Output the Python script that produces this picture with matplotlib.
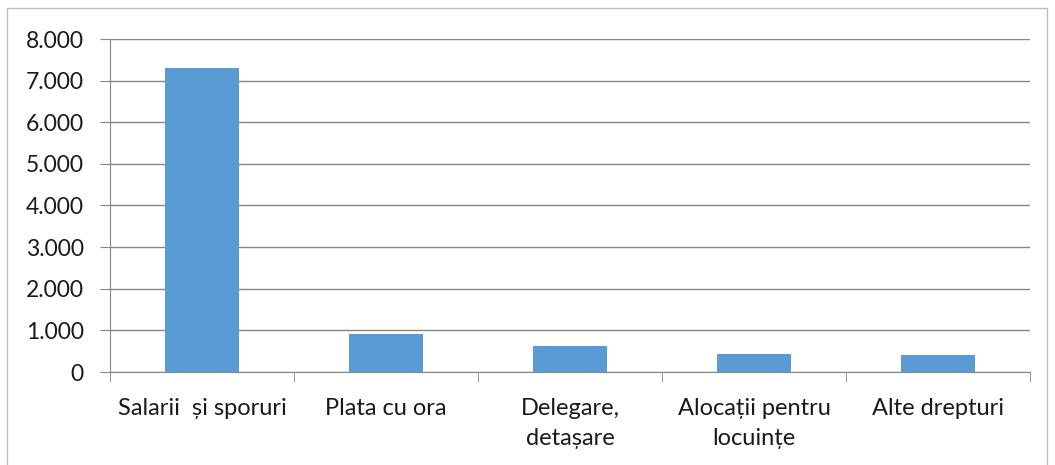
import numpy as np
import matplotlib.pyplot as plt
from matplotlib.patches import Rectangle
from matplotlib.ticker import FuncFormatter

categories = ["Salarii  și sporuri", "Plata cu ora", "Delegare,\ndetașare",
              "Alocații pentru\nlocuințe", "Alte drepturi"]
values = [7310, 910, 625, 440, 418]
y_ticks = [0, 1000, 2000, 3000, 4000, 5000, 6000, 7000, 8000]

plt.rcParams['font.family'] = ['Lato', 'DejaVu Sans']

fig = plt.figure(figsize=(10.55, 4.65), dpi=100)
ax = fig.add_axes([110 / 1055, 1 - 372 / 465, 920 / 1055, (372 - 39) / 465])

# outer chart border
fig.patches.append(Rectangle((7 / 1055, -0.01), 1040 / 1055, 1 - 8 / 465 + 0.01,
                             transform=fig.transFigure, fill=False,
                             edgecolor="#bfbfbf", linewidth=1))

x = np.arange(len(categories))
ax.bar(x, values, width=0.4, color="#5b9bd5", zorder=3)

ax.set_xlim(-0.5, len(categories) - 0.5)
ax.set_ylim(0, 8000)
ax.set_yticks(y_ticks)
ax.yaxis.set_major_formatter(FuncFormatter(lambda v, p: f"{int(v):,}".replace(",", ".")))
ax.grid(axis="y", color="#868686", linewidth=1, zorder=0)

ax.set_xticks(x)
ax.set_xticklabels(categories, linespacing=1.5)
ax.set_xticks(np.arange(len(categories) + 1) - 0.5, minor=True)
ax.tick_params(axis="x", which="major", length=0, pad=19, labelsize=17, colors="#1a1a1a")
ax.tick_params(axis="x", which="minor", length=7, color="#868686", direction="out")
ax.tick_params(axis="y", length=7, color="#868686", pad=12, labelsize=16.5, labelcolor="#1a1a1a")
for lbl in ax.get_xticklabels():
    lbl.set_verticalalignment("top")

for side in ["top", "right"]:
    ax.spines[side].set_visible(False)
for side in ["left", "bottom"]:
    ax.spines[side].set_color("#868686")

fig.savefig("out.png", dpi=100)
